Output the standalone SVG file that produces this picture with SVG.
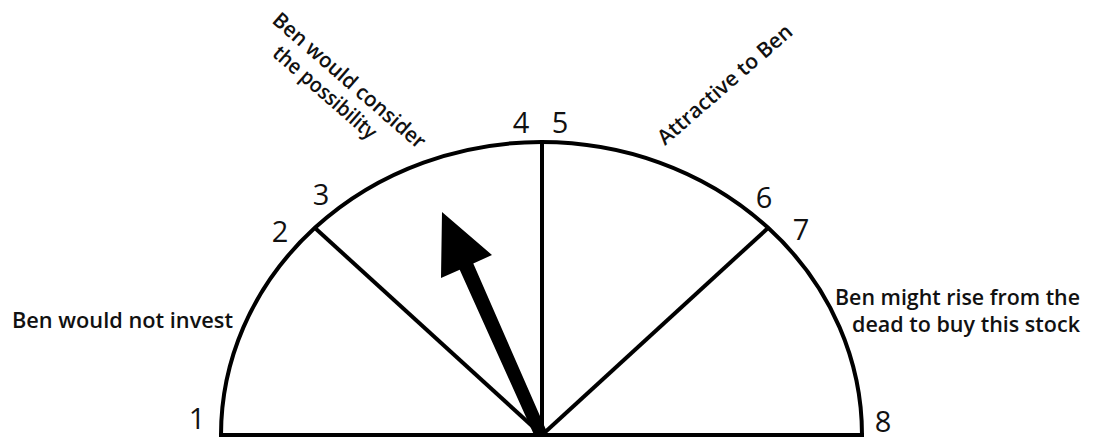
<svg xmlns="http://www.w3.org/2000/svg" width="1093" height="440" viewBox="0 0 1093 440">
<style>
.ln{fill:none;stroke:#000;stroke-width:4;stroke-linecap:butt}
.num{font-family:"Open Sans","Liberation Sans",sans-serif;font-size:29px;fill:#111;text-anchor:middle}
.lbl{font-family:"Open Sans","Liberation Sans",sans-serif;font-size:21px;font-weight:600;fill:#111}
</style>
<rect width="1093" height="440" fill="#fff"/>
<g id="dial">
<path class="ln" d="M221 435 A320.5 293 0 0 1 862 435"/>
<path class="ln" d="M219 435 H864"/>
</g>
<g id="connectors">
<path class="ln" d="M542 142 V435"/>
<path class="ln" d="M315 228 L542 435"/>
<path class="ln" d="M768 228 L542 435"/>
</g>
<g id="pointer">
<polygon points="442,212 441,278 459.7,269.8 535,437 547,432 473.3,263.6 492,255" fill="#000"/>
</g>
<g id="numbers">
<text class="num" x="197" y="429">1</text>
<text class="num" x="280" y="242">2</text>
<text class="num" x="321" y="205">3</text>
<text class="num" x="521" y="133">4</text>
<text class="num" x="560" y="133">5</text>
<text class="num" x="764" y="208">6</text>
<text class="num" x="801" y="240">7</text>
<text class="num" x="883" y="432">8</text>
</g>
<g id="label-not-invest">
<text class="lbl" x="12" y="328" textLength="221" lengthAdjust="spacingAndGlyphs">Ben would not invest</text>
</g>
<g id="label-consider">
<text class="lbl" transform="translate(271 22) rotate(41)" textLength="195" lengthAdjust="spacingAndGlyphs">Ben would consider</text>
<text class="lbl" transform="translate(263 48) rotate(41)" x="11" textLength="130" lengthAdjust="spacingAndGlyphs">the possibility</text>
</g>
<g id="label-attractive">
<text class="lbl" transform="translate(665 146) rotate(-41)" textLength="171" lengthAdjust="spacingAndGlyphs">Attractive to Ben</text>
</g>
<g id="label-rise">
<text class="lbl" x="835" y="305" textLength="245" lengthAdjust="spacingAndGlyphs">Ben might rise from the</text>
<text class="lbl" x="852" y="332" textLength="228" lengthAdjust="spacingAndGlyphs">dead to buy this stock</text>
</g>
</svg>
